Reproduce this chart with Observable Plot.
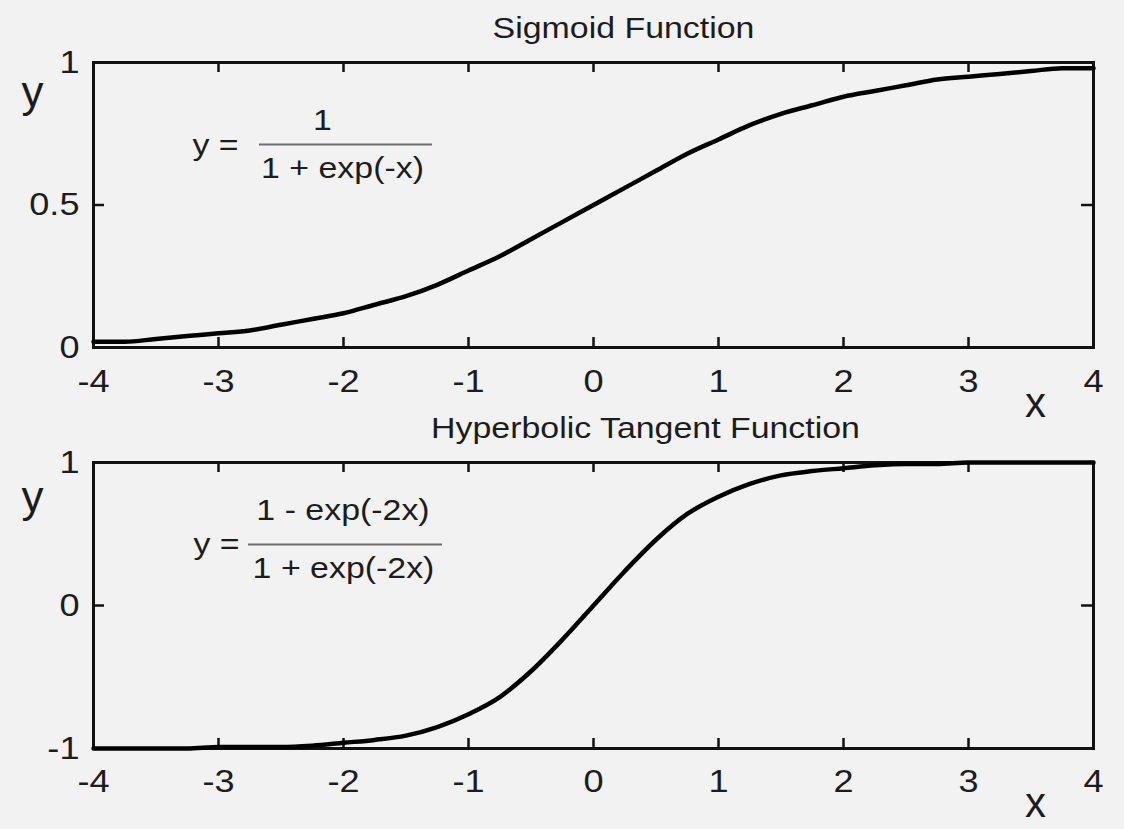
<!DOCTYPE html>
<html>
<head>
<meta charset="utf-8">
<script src="https://cdn.jsdelivr.net/npm/d3@7"></script>
<script src="https://cdn.jsdelivr.net/npm/@observablehq/plot@0.6"></script>
<style>
  html, body { margin: 0; padding: 0; background: #f2f2f2; }
  #chart { width: 1124px; height: 829px; overflow: hidden; }
  #chart svg { display: block; }
</style>
</head>
<body>
<div id="chart"></div>
<script>
// Sample positions along the x axis
const xs = [
  -4, -3.75, -3.5, -3.25, -3, -2.75, -2.5, -2.25, -2, -1.75, -1.5, -1.25, -1, -0.75, -0.5, -0.25,
  0, 0.25, 0.5, 0.75, 1, 1.25, 1.5, 1.75, 2, 2.25, 2.5, 2.75, 3, 3.25, 3.5, 3.75, 4
];

// Logistic curve, one value per x sample
const sigmoidValues = [
  0.02, 0.02, 0.03, 0.04, 0.05, 0.06, 0.08, 0.10, 0.12, 0.15, 0.18, 0.22, 0.27, 0.32, 0.38, 0.44,
  0.50, 0.56, 0.62, 0.68, 0.73, 0.78, 0.82, 0.85, 0.88, 0.90, 0.92, 0.94, 0.95, 0.96, 0.97, 0.98, 0.98
];

// Hyperbolic tangent curve, one value per x sample
const tanhValues = [
  -1.00, -1.00, -1.00, -1.00, -0.99, -0.99, -0.99, -0.98, -0.96, -0.94, -0.91, -0.85, -0.76, -0.64, -0.46, -0.24,
  0.00, 0.24, 0.46, 0.64, 0.76, 0.85, 0.91, 0.94, 0.96, 0.98, 0.99, 0.99, 1.00, 1.00, 1.00, 1.00, 1.00
];

// Tick values
const xTicks = [-4, -3, -2, -1, 0, 1, 2, 3, 4];
const sigmoidTicks = [0, 0.5, 1];
const tanhTicks = [-1, 0, 1];

// Titles and formula text
const sigmoidTitle = "Sigmoid Function";
const tanhTitle = "Hyperbolic Tangent Function";
const sigmoidFormula = {lhs: "y =", numerator: "1", denominator: "1 + exp(-x)"};
const tanhFormula = {lhs: "y =", numerator: "1 - exp(-2x)", denominator: "1 + exp(-2x)"};

const FONT = "'Liberation Sans', Arial, Helvetica, sans-serif";
const INK = "#111";
const TEXT = "#1c1c1c";
const WIDTH = 1124;
const M_LEFT = 93, M_RIGHT = 31;
const FRAME_W = WIDTH - M_LEFT - M_RIGHT;

function panel(cfg) {
  const frameH = cfg.height - cfg.marginTop - cfg.marginBottom;
  const rows = xs.map((x, i) => ({x, y: cfg.values[i]}));
  const f = cfg.formula;
  const label = (t, o) => Plot.text([t], {text: d => d, fill: TEXT, textAnchor: "middle", lineAnchor: "middle", ...o});
  const svg = Plot.plot({
    width: WIDTH,
    height: cfg.height,
    marginLeft: M_LEFT,
    marginRight: M_RIGHT,
    marginTop: cfg.marginTop,
    marginBottom: cfg.marginBottom,
    style: {background: "#f2f2f2", fontFamily: FONT, overflow: "visible"},
    x: {domain: [-4, 4], axis: null},
    y: {domain: cfg.yDomain, axis: null},
    marks: [
      // inward ticks on all four sides
      Plot.ruleX(xTicks, {x: d => d, insetTop: frameH - 10, stroke: INK, strokeWidth: 2.5}),
      Plot.ruleX(xTicks, {x: d => d, insetBottom: frameH - 10, stroke: INK, strokeWidth: 2.5}),
      Plot.ruleY(cfg.yTicks, {y: d => d, insetRight: FRAME_W - 11, stroke: INK, strokeWidth: 2.5}),
      Plot.ruleY(cfg.yTicks, {y: d => d, insetLeft: FRAME_W - 12, stroke: INK, strokeWidth: 2.5}),
      Plot.frame({stroke: INK, strokeWidth: 3}),
      // curve
      Plot.line(rows, {x: "x", y: "y", curve: "monotone-x", stroke: "#000", strokeWidth: 4.5, strokeLinejoin: "round"}),
      // tick labels
      Plot.text(xTicks, {x: d => d, text: d => String(d), frameAnchor: "bottom", dy: cfg.xLabelDy,
        lineAnchor: "middle", fontSize: 32, fill: TEXT}),
      Plot.text(cfg.yTicks, {y: d => d, text: d => String(d), frameAnchor: "left", dx: -14,
        textAnchor: "end", lineAnchor: "middle", fontSize: 32, fill: TEXT}),
      // axis names
      label("y", {frameAnchor: "top-left", dx: -61, dy: cfg.yNameDy, fontSize: 44}),
      label("x", {frameAnchor: "bottom-left", dx: 942, dy: cfg.xNameDy, fontSize: 42}),
      // title
      label(cfg.title, {frameAnchor: "top", dx: cfg.titleDx, dy: -34.6, fontSize: 30}),
      // formula
      label(f.lhs, {frameAnchor: "top-left", dx: cfg.lhs[0], dy: cfg.lhs[1], fontSize: 30}),
      label(f.numerator, {frameAnchor: "top-left", dx: cfg.num[0], dy: cfg.num[1], fontSize: 30}),
      label(f.denominator, {frameAnchor: "top-left", dx: cfg.den[0], dy: cfg.den[1], fontSize: 30}),
      Plot.ruleY([cfg.yDomain[1]], {y: d => d, dy: cfg.bar[2], insetLeft: cfg.bar[0], insetRight: cfg.bar[1],
        stroke: "#6e6e6e", strokeWidth: 2})
    ]
  });
  widenText(svg);
  return svg;
}

// Helvetica-style glyphs set slightly wide, as in the original plot output
function widenText(svg) {
  const s = 1.13;
  svg.querySelectorAll("text").forEach(t => {
    const c = t.textContent.trim();
    if (c === "x" || c === "y") return;
    const tr = t.getAttribute("transform");
    if (tr) {
      t.setAttribute("transform", tr + ` scale(${s},1)`);
    } else {
      const x = +t.getAttribute("x") || 0, y = +t.getAttribute("y") || 0;
      t.setAttribute("transform", `translate(${x},${y}) scale(${s},1) translate(${-x},${-y})`);
    }
  });
}

const sigmoidPanel = panel({
  title: sigmoidTitle, titleDx: 30,
  values: sigmoidValues, yDomain: [0, 1], yTicks: sigmoidTicks,
  height: 410, marginTop: 62, marginBottom: 63,
  xLabelDy: 34, yNameDy: 30, xNameDy: 56,
  formula: sigmoidFormula,
  lhs: [122, 83], num: [229, 58], den: [249, 106], bar: [166, 661, 82]
});

const tanhPanel = panel({
  title: tanhTitle, titleDx: 52,
  values: tanhValues, yDomain: [-1, 1], yTicks: tanhTicks,
  height: 419, marginTop: 52, marginBottom: 81,
  xLabelDy: 33, yNameDy: 35, xNameDy: 55,
  formula: tanhFormula,
  lhs: [123, 82], num: [249.5, 48], den: [250, 106], bar: [155, 651, 82]
});

document.getElementById("chart").append(sigmoidPanel, tanhPanel);
</script>
</body>
</html>
